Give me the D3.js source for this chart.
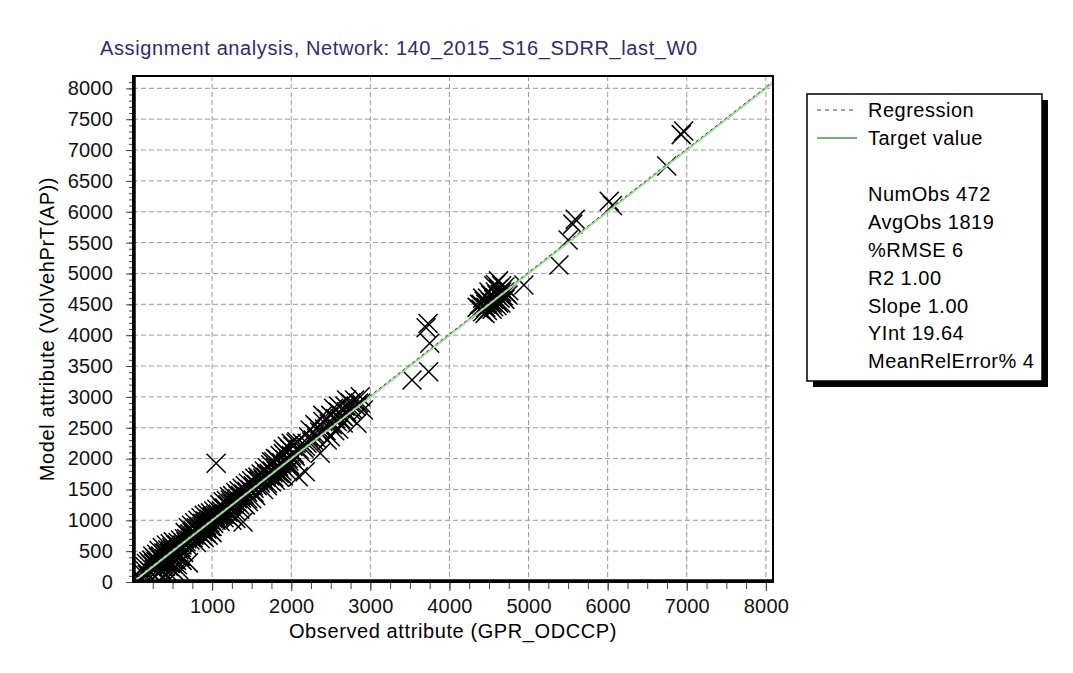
<!DOCTYPE html>
<html>
<head>
<meta charset="utf-8">
<script src="https://cdn.jsdelivr.net/npm/d3@7"></script>
<style>
  body { margin: 0; background: #fff; }
  text { font-family: "Liberation Sans", Arial, sans-serif; }
</style>
</head>
<body>
<div id="canvas_b"></div>
<script>
// observed (x) and model (y) values, one pair per position
var observed = [
  60,120,150,180,200,230,250,270,280,300,310,330,340,350,370,380,390,400,420,430,
  440,450,460,470,480,490,500,510,520,530,540,550,560,570,580,590,600,610,620,630,
  640,700,520,580,450,400,
  100,140,170,210,240,260,290,320,360,410,440,470,500,530,560,590,620,650,360,410,470,550,600,330,250,
  660,680,700,720,740,760,780,800,820,840,860,880,900,920,940,960,980,1000,1020,1040,
  680,720,760,800,840,880,900,930,950,980,1000,1020,1050,800,850,1051,
  670,700,730,750,770,790,810,830,850,870,890,910,930,950,970,990,1010,1030,870,920,960,1000,
  1060,1080,1100,1120,1140,1160,1180,1200,1220,1240,1260,1280,1300,1320,1340,1360,1380,1400,
  1420,1440,1460,1480,1500,1520,1540,1560,1580,1600,
  1100,1150,1200,1250,1300,1350,1392,1420,1460,1500,1550,1250,1300,1200,
  1070,1110,1130,1170,1210,1230,1270,1310,1330,1370,1410,1450,1490,1530,1570,1590,1350,1450,1530,1150,
  1620,1640,1660,1680,1700,1720,1740,1760,1780,1800,1820,1840,1860,1880,1900,1920,1940,1960,
  1980,2000,2020,2040,2060,
  1650,1700,1750,1800,1850,1900,1950,2000,2090,2177,1700,1850,
  1610,1650,1690,1730,1770,1810,1850,1890,1930,1970,2010,2050,1750,1800,1900,1950,2000,1780,1880,1980,
  2100,2140,2180,2220,2240,2280,2300,2340,2360,2400,2420,2450,2480,2500,2536,2560,2600,2640,
  2680,2700,2750,2780,2873,2911,2831,2658,2494,2367,2455,2550,2600,2072,2800,2850,
  2120,2160,2200,2260,2320,2380,2440,2520,2580,2620,2660,2720,2760,2820,2880,2300,2400,2600,2700,
  3527,3738,3751,3705,3730,
  4380,4400,4420,4440,4460,4480,4500,4520,4540,4560,4580,4600,4620,4640,4660,4680,4700,4720,
  4750,4480,4540,4600,4650,4700,4420,4500,4560,4600,4450,4350,4620,4580,
  4400,4460,4520,4580,4640,4700,4560,4620,4660,4380,4480,4740,
  4941,5384,5500,5560,5590,6020,6060,6747,6930,6960
];
var model = [
  80,150,250,120,330,280,420,200,380,450,260,510,300,420,560,240,470,380,600,330,
  520,250,470,620,390,560,300,650,450,370,600,480,280,640,520,410,680,560,350,640,
  480,310,180,200,150,120,
  60,200,300,180,350,300,330,400,350,470,380,500,530,480,600,560,600,700,200,250,300,350,420,150,120,
  800,700,880,780,920,830,960,880,1000,900,1040,950,1080,990,1100,1020,1120,1060,1150,1080,
  600,680,720,760,800,820,720,860,760,900,800,950,1000,640,700,1923,
  650,760,720,800,760,850,820,880,860,900,880,950,920,980,960,1000,1030,1040,760,800,850,900,
  1180,1100,1250,1150,1300,1200,1320,1250,1380,1280,1400,1320,1450,1350,1480,1400,1520,1430,
  1560,1470,1600,1500,1640,1560,1680,1580,1700,1620,
  980,1040,1060,1100,1150,1180,972,1250,1300,1350,1400,1000,1030,1130,
  1080,1120,1200,1180,1220,1330,1270,1300,1400,1360,1400,1450,1480,1520,1560,1650,1250,1350,1450,1100,
  1750,1680,1800,1700,1850,1760,1900,1800,1950,1850,1990,1880,2050,1930,2080,1980,2100,2000,
  2150,2050,2200,2080,2250,
  1500,1560,1620,1650,1700,1720,1800,1850,1707,1788,1600,1760,
  1600,1650,1740,1720,1770,1800,1840,1880,1920,1960,2000,2040,1950,2000,2150,2200,2250,1700,1800,1900,
  2150,2250,2200,2350,2463,2300,2400,2500,2430,2600,2480,2650,2560,2700,2815,2650,2750,2700,
  2850,2760,2900,2800,3003,2788,2572,2577,2355,2086,2300,2450,2480,2274,2950,2900,
  2100,2170,2250,2270,2330,2400,2450,2550,2600,2650,2680,2700,2780,2850,2900,2550,2700,2850,2950,
  3274,3408,3868,4120,4190,
  4420,4500,4380,4550,4450,4600,4480,4650,4520,4580,4700,4560,4750,4600,4700,4640,4780,4680,
  4720,4400,4420,4480,4520,4580,4600,4700,4800,4650,4350,4450,4880,4820,
  4420,4500,4540,4600,4660,4700,4460,4520,4800,4500,4520,4650,
  4814,5138,5543,5800,5880,6170,6100,6742,7250,7310
];

var xTicks = [1000, 2000, 3000, 4000, 5000, 6000, 7000, 8000];
var yTicks = [0, 500, 1000, 1500, 2000, 2500, 3000, 3500, 4000, 4500, 5000, 5500, 6000, 6500, 7000, 7500, 8000];

var titleText = 'Assignment analysis, Network: 140_2015_S16_SDRR_last_W0';
var xTitle = 'Observed attribute (GPR_ODCCP)';
var yTitle = 'Model attribute (VolVehPrT(AP))';
var legendLines = ['Regression', 'Target value'];
var statLines = ['NumObs 472', 'AvgObs 1819', '%RMSE 6', 'R2 1.00', 'Slope 1.00', 'YInt 19.64', 'MeanRelError% 4'];
var regSlope = 1.00, regInt = 19.64;

var fullWidth = 1073, fullHeight = 673;
var plot = {left: 133, right: 773, top: 76, bottom: 582};

var svg = d3.select('#canvas_b').append('svg')
  .attr('width', fullWidth)
  .attr('height', fullHeight);

var xScale = d3.scaleLinear().domain([0, 8090]).range([plot.left, plot.right]);
var yScale = d3.scaleLinear().domain([0, 8200]).range([plot.bottom, plot.top]);

// title
svg.append('text')
  .attr('x', 100).attr('y', 55)
  .style('font-size', '20px')
  .style('letter-spacing', '0.6px')
  .style('fill', '#2c2c70')
  .text(titleText);

// grid lines
var grid = svg.append('g').attr('stroke', '#999').attr('stroke-dasharray', '5,3').attr('stroke-width', 1);
grid.selectAll('line.gx').data(xTicks).enter().append('line')
  .attr('x1', function(d) { return xScale(d); }).attr('x2', function(d) { return xScale(d); })
  .attr('y1', plot.top).attr('y2', plot.bottom);
grid.selectAll('line.gy').data(yTicks.filter(function(d) { return d > 0; })).enter().append('line')
  .attr('x1', plot.left).attr('x2', plot.right)
  .attr('y1', function(d) { return yScale(d); }).attr('y2', function(d) { return yScale(d); });

// axes: major ticks with labels, minor ticks without
var xAxis = d3.axisBottom(xScale).tickValues(xTicks).tickSize(9).tickPadding(8).tickFormat(d3.format('d'));
var xMinor = d3.axisBottom(xScale).tickValues(d3.range(250, 8090, 250)).tickSize(7).tickFormat('');
var yAxis = d3.axisLeft(yScale).tickValues(yTicks).tickSize(7).tickPadding(13).tickFormat(d3.format('d'));
var yMinor = d3.axisLeft(yScale).tickValues(d3.range(100, 8200, 100)).tickSize(4).tickFormat('');

[xMinor, xAxis].forEach(function(ax) {
  svg.append('g').attr('transform', 'translate(0,' + plot.bottom + ')').call(ax)
    .call(function(g) { g.select('.domain').remove(); });
});
[yMinor, yAxis].forEach(function(ax) {
  svg.append('g').attr('transform', 'translate(' + plot.left + ',0)').call(ax)
    .call(function(g) { g.select('.domain').remove(); });
});
svg.selectAll('.tick text').style('font-size', '20px').style('letter-spacing', '0.2px').style('fill', '#111');
svg.selectAll('.tick line').attr('stroke', '#444');

// markers
svg.append('clipPath').attr('id', 'plotclip').append('rect')
  .attr('x', plot.left).attr('y', plot.top)
  .attr('width', plot.right - plot.left).attr('height', plot.bottom - plot.top);

var r = 9.5;
svg.append('g').attr('clip-path', 'url(#plotclip)')
  .selectAll('path.pt').data(observed).enter().append('path')
  .attr('d', function(d, i) {
    var cx = xScale(d), cy = yScale(model[i]);
    return 'M' + (cx - r) + ',' + (cy - r) + 'L' + (cx + r) + ',' + (cy + r) +
           'M' + (cx - r) + ',' + (cy + r) + 'L' + (cx + r) + ',' + (cy - r);
  })
  .attr('stroke', '#000').attr('stroke-width', 1.5).attr('fill', 'none');

// target and regression lines
var lines = svg.append('g').attr('clip-path', 'url(#plotclip)');
lines.append('line')
  .attr('x1', xScale(0)).attr('y1', yScale(0))
  .attr('x2', xScale(8090)).attr('y2', yScale(8090))
  .attr('stroke', '#9be39b').attr('stroke-width', 2.2);
lines.append('line')
  .attr('x1', xScale(0)).attr('y1', yScale(regInt))
  .attr('x2', xScale(8090)).attr('y2', yScale(regInt + regSlope * 8090))
  .attr('stroke', '#5a3030').attr('stroke-width', 1).attr('stroke-dasharray', '3,3');

// plot frame
svg.append('rect')
  .attr('x', plot.left).attr('y', plot.top)
  .attr('width', plot.right - plot.left).attr('height', plot.bottom - plot.top)
  .attr('fill', 'none').attr('stroke', '#000').attr('stroke-width', 2);
svg.append('path')
  .attr('d', 'M' + (plot.left + 1) + ',' + plot.top + 'V' + (plot.bottom - 1) + 'H' + plot.right)
  .attr('fill', 'none').attr('stroke', '#000').attr('stroke-width', 3.5);

// axis titles
svg.append('text')
  .attr('x', (plot.left + plot.right) / 2).attr('y', 638)
  .style('text-anchor', 'middle').style('font-size', '20px').style('letter-spacing', '0.6px')
  .text(xTitle);
svg.append('text')
  .attr('transform', 'translate(54,' + (plot.top + plot.bottom) / 2 + ')rotate(-90)')
  .style('text-anchor', 'middle').style('font-size', '20px').style('letter-spacing', '0.6px')
  .text(yTitle);

// legend box with shadow
var lg = {x: 807, y: 94, w: 235, h: 287};
svg.append('rect').attr('x', lg.x + 6).attr('y', lg.y + 6).attr('width', lg.w).attr('height', lg.h).attr('fill', '#000');
svg.append('rect').attr('x', lg.x).attr('y', lg.y).attr('width', lg.w).attr('height', lg.h)
  .attr('fill', '#fff').attr('stroke', '#000').attr('stroke-width', 1.5);

var rowH = 27.9;
svg.append('line').attr('x1', 817).attr('x2', 857).attr('y1', 110).attr('y2', 110)
  .attr('stroke', '#8a3a3a').attr('stroke-width', 1.2).attr('stroke-dasharray', '4,4');
svg.append('line').attr('x1', 817).attr('x2', 857).attr('y1', 110 + rowH).attr('y2', 110 + rowH)
  .attr('stroke', '#3c9c4c').attr('stroke-width', 1.5);

var allRows = legendLines.concat(['']).concat(statLines);
svg.selectAll('text.lg').data(allRows).enter().append('text')
  .attr('x', 868)
  .attr('y', function(d, i) { return 110 + i * rowH; })
  .attr('dy', '0.36em')
  .style('font-size', '20px')
  .style('letter-spacing', '0.5px')
  .text(function(d) { return d; });
</script>
</body>
</html>
